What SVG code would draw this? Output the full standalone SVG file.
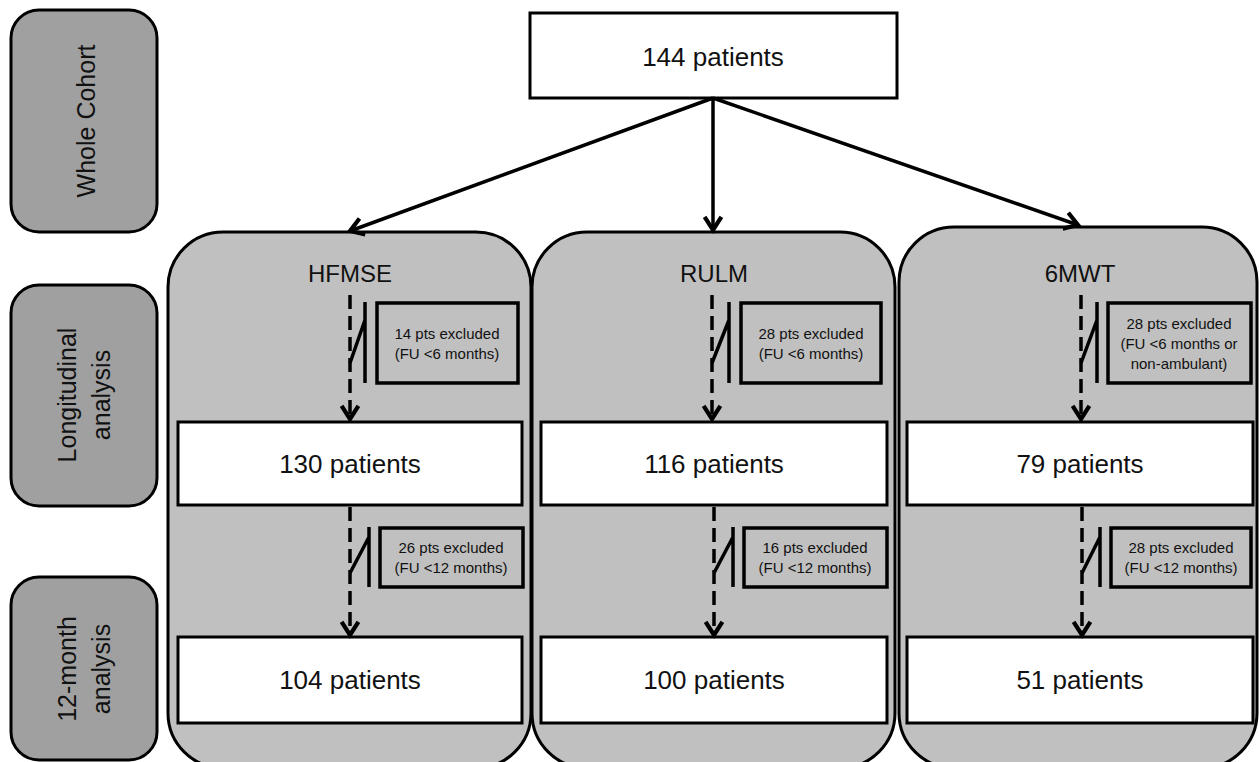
<svg xmlns="http://www.w3.org/2000/svg" width="1259" height="762" viewBox="0 0 1259 762">
<defs>
<style>
.lbl{fill:#a0a0a0;stroke:#000;stroke-width:3}
.panel{fill:#c0c0c0;stroke:#000;stroke-width:3}
.box{fill:#fff;stroke:#000;stroke-width:3}
.exc{fill:none;stroke:#000;stroke-width:3.5}
.t{font-family:"Liberation Sans",Arial,sans-serif;fill:#111;text-anchor:middle;dominant-baseline:central}
.big{font-size:26px}
.title{font-size:24px}
.side{font-size:25px}
.small{font-size:15px}
.arr{fill:none;stroke:#000;stroke-width:3.5}
.dash{fill:none;stroke:#000;stroke-width:3.5;stroke-dasharray:14 7}
.brk{fill:none;stroke:#000;stroke-width:3.5}
</style>
<marker id="ah" markerUnits="userSpaceOnUse" markerWidth="24" markerHeight="24" viewBox="-14 -10 16 20" refX="0" refY="0" orient="auto" overflow="visible">
<path d="M-11,-7 L0,0 L-11,7" fill="none" stroke="#000" stroke-width="3.5" stroke-linejoin="miter"/>
</marker>
</defs>
<rect width="1259" height="762" fill="#fff"/>

<g id="label-whole-cohort">
<rect class="lbl" x="11" y="10" width="146" height="222" rx="28"/>
<text class="t side" transform="translate(86,121) rotate(-90)">Whole Cohort</text>
</g>
<g id="label-longitudinal">
<rect class="lbl" x="11" y="285" width="146" height="221" rx="28"/>
<text class="t side" transform="translate(67,395) rotate(-90)">Longitudinal</text>
<text class="t side" transform="translate(101,395) rotate(-90)">analysis</text>
</g>
<g id="label-12month">
<rect class="lbl" x="11" y="577" width="146" height="183" rx="28"/>
<text class="t side" transform="translate(67,669) rotate(-90)">12-month</text>
<text class="t side" transform="translate(101,669) rotate(-90)">analysis</text>
</g>

<g id="panel-hfmse">
<rect class="panel" x="168" y="232" width="363" height="536" rx="55"/>
<text class="t title" x="350" y="273">HFMSE</text>
</g>
<g id="panel-rulm">
<rect class="panel" x="532" y="232" width="363" height="536" rx="55"/>
<text class="t title" x="714" y="273">RULM</text>
</g>
<g id="panel-6mwt">
<rect class="panel" x="899" y="227" width="358" height="541" rx="55"/>
<text class="t title" x="1080" y="273">6MWT</text>
</g>

<g id="node-144">
<rect class="box" x="530" y="13" width="367" height="85"/>
<text class="t big" x="713" y="57">144 patients</text>
</g>

<g id="node-130">
<rect class="box" x="178" y="422" width="344" height="83"/>
<text class="t big" x="350" y="464">130 patients</text>
</g>
<g id="node-116">
<rect class="box" x="541" y="422" width="346" height="83"/>
<text class="t big" x="714" y="464">116 patients</text>
</g>
<g id="node-79">
<rect class="box" x="907" y="422" width="346" height="83"/>
<text class="t big" x="1080" y="464">79 patients</text>
</g>
<g id="node-104">
<rect class="box" x="178" y="637" width="344" height="86"/>
<text class="t big" x="350" y="680">104 patients</text>
</g>
<g id="node-100">
<rect class="box" x="541" y="637" width="346" height="86"/>
<text class="t big" x="714" y="680">100 patients</text>
</g>
<g id="node-51">
<rect class="box" x="907" y="637" width="346" height="86"/>
<text class="t big" x="1080" y="680">51 patients</text>
</g>

<g id="excl-hfmse-1">
<rect class="exc" x="377" y="303" width="141" height="80"/>
<text class="t small" x="447" y="333">14 pts excluded</text>
<text class="t small" x="447" y="353">(FU &lt;6 months)</text>
</g>
<g id="excl-rulm-1">
<rect class="exc" x="741" y="303" width="140" height="80"/>
<text class="t small" x="811" y="333">28 pts excluded</text>
<text class="t small" x="811" y="353">(FU &lt;6 months)</text>
</g>
<g id="excl-6mwt-1">
<rect class="exc" x="1108" y="303" width="143" height="80"/>
<text class="t small" x="1179" y="323">28 pts excluded</text>
<text class="t small" x="1179" y="343">(FU &lt;6 months or</text>
<text class="t small" x="1179" y="363">non-ambulant)</text>
</g>
<g id="excl-hfmse-2">
<rect class="exc" x="380" y="528" width="143" height="59"/>
<text class="t small" x="451" y="547">26 pts excluded</text>
<text class="t small" x="451" y="567">(FU &lt;12 months)</text>
</g>
<g id="excl-rulm-2">
<rect class="exc" x="744" y="528" width="143" height="59"/>
<text class="t small" x="815" y="547">16 pts excluded</text>
<text class="t small" x="815" y="567">(FU &lt;12 months)</text>
</g>
<g id="excl-6mwt-2">
<rect class="exc" x="1111" y="528" width="140" height="59"/>
<text class="t small" x="1181" y="547">28 pts excluded</text>
<text class="t small" x="1181" y="567">(FU &lt;12 months)</text>
</g>

<g id="connectors">
<line class="arr" x1="713" y1="98" x2="350" y2="231" marker-end="url(#ah)"/>
<line class="arr" x1="713" y1="98" x2="713" y2="230" marker-end="url(#ah)"/>
<line class="arr" x1="713" y1="98" x2="1078" y2="225" marker-end="url(#ah)"/>

<line class="dash" x1="350" y1="295" x2="350" y2="419" marker-end="url(#ah)"/>
<path class="brk" d="M350,363 L365,320 M365,302 L365,383"/>
<line class="dash" x1="712" y1="295" x2="712" y2="419" marker-end="url(#ah)"/>
<path class="brk" d="M712,363 L729,320 M729,302 L729,383"/>
<line class="dash" x1="1081" y1="295" x2="1081" y2="419" marker-end="url(#ah)"/>
<path class="brk" d="M1081,363 L1097,320 M1097,302 L1097,383"/>

<line class="dash" x1="350" y1="507" x2="350" y2="635" marker-end="url(#ah)"/>
<path class="brk" d="M350,573 L369,537 M369,527 L369,587"/>
<line class="dash" x1="714" y1="507" x2="714" y2="635" marker-end="url(#ah)"/>
<path class="brk" d="M714,573 L733,537 M733,527 L733,587"/>
<line class="dash" x1="1082" y1="507" x2="1082" y2="635" marker-end="url(#ah)"/>
<path class="brk" d="M1082,573 L1100,537 M1100,527 L1100,587"/>
</g>
</svg>
